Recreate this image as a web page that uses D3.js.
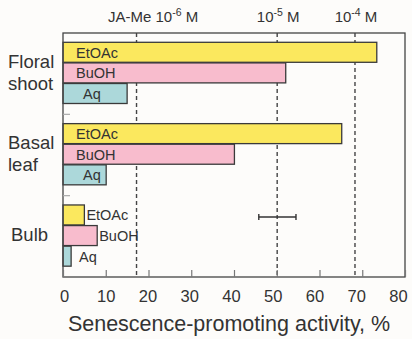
<!DOCTYPE html>
<html><head><meta charset="utf-8">
<script src="https://cdn.jsdelivr.net/npm/d3@7"></script>
<style>
body{margin:0;background:#fdfcfa;}
svg{display:block;font-family:"Liberation Sans",Arial,sans-serif;}
</style></head>
<body><svg id="c" width="412" height="339"></svg>
<script>
const groups = ["Floral shoot", "Basal leaf", "Bulb"];
const series = ["EtOAc", "BuOH", "Aq"];
const floral = [73.4, 52.1, 15.0];
const basal = [65.2, 40.1, 10.1];
const bulb = [5.0, 8.0, 1.9];
const refLines = [17.2, 50.1, 68.3];
const refLabels = ["JA-Me 10^-6 M", "10^-5 M", "10^-4 M"];
const errBar = {center: 50.1, low: 45.8, high: 54.5};
const xTicks = [0, 10, 20, 30, 40, 50, 60, 70, 80];
const colors = ["#fbe85e", "#f8bccd", "#acd8da"];

const values = [floral, basal, bulb];
const svg = d3.select("#c");
const L = 63, R = 405, T = 33, B = 277;
const x = d3.scaleLinear().domain([0, 80]).range([L, R]);
const xLab = d3.scaleLinear().domain([0, 80]).range([64, 398]);
const y = d3.scaleBand().domain(groups).range([T, B]);
const yi = d3.scaleBand().domain(series).range([9.3, 70.5]).paddingInner(0.03);
const ink = "#333";

// dashed reference lines
svg.selectAll(".ref").data(refLines).join("line")
  .attr("x1", d => x(d)).attr("x2", d => x(d))
  .attr("y1", T).attr("y2", B)
  .attr("stroke", "#444").attr("stroke-width", 1.4).attr("stroke-dasharray", "4,3");

// bars
groups.forEach((g, gi) => {
  const gg = svg.append("g").attr("transform", `translate(0,${y(g)})`);
  series.forEach((s, si) => {
    const v = values[gi][si];
    gg.append("rect")
      .attr("x", x(0)).attr("y", yi(s))
      .attr("width", x(v) - x(0)).attr("height", yi.bandwidth())
      .attr("fill", colors[si]).attr("stroke", "#3a3a3a").attr("stroke-width", 1.3);
    const inside = gi < 2;
    const lx = inside ? (si === 2 ? x(0) + 20 : x(0) + 13) : (si === 2 ? x(v) + 8 : x(v) + 2);
    gg.append("text")
      .attr("x", lx)
      .attr("y", yi(s) + yi.bandwidth() / 2 + 5.5)
      .attr("font-size", 14.5).attr("fill", ink).text(s);
  });
});

// frame
svg.append("rect").attr("x", L).attr("y", T).attr("width", R - L).attr("height", B - T)
  .attr("fill", "none").attr("stroke", "#444").attr("stroke-width", 1.3);

// group separator ticks
groups.slice(1).forEach(g => {
  svg.append("line").attr("x1", L).attr("x2", L + 7)
    .attr("y1", y(g)).attr("y2", y(g)).attr("stroke", "#aaa").attr("stroke-width", 1.2);
});

// x axis ticks (inward)
const ax = svg.append("g").attr("transform", `translate(0,${B})`)
  .call(d3.axisBottom(x).tickValues(xTicks).tickSize(-7).tickFormat("").tickSizeOuter(0));
ax.select(".domain").remove();
ax.selectAll(".tick line").attr("stroke", "#777").attr("stroke-width", 1.2);
// x axis labels
const axl = svg.append("g").attr("transform", `translate(0,${B})`)
  .call(d3.axisBottom(xLab).tickValues(xTicks).tickSize(0).tickPadding(13));
axl.select(".domain").remove();
axl.selectAll(".tick text").attr("font-size", 16.5).attr("fill", ink)
  .attr("font-family", "Liberation Sans, Arial, sans-serif");

// axis title
svg.append("text").attr("x", 229).attr("y", 331).attr("text-anchor", "middle")
  .attr("font-size", 21.5).attr("fill", ink).text("Senescence-promoting activity, %");

// group labels
const gl = [["Floral", "shoot"], ["Basal", "leaf"], ["Bulb"]];
groups.forEach((g, gi) => {
  const lines = gl[gi];
  const cy = y(g) + y.bandwidth() / 2 - 1;
  lines.forEach((t, li) => {
    svg.append("text").attr("x", gi === 2 ? 11 : 8)
      .attr("y", cy + (li - (lines.length - 1) / 2) * 22 + 6)
      .attr("font-size", 18.5).attr("fill", ink).text(t);
  });
});

// top labels with superscripts
const anchors = ["start", "middle", "middle"];
refLines.forEach((v, i) => {
  const m = refLabels[i].match(/^(.*?)10\^(-\d) M$/);
  const t = svg.append("text").attr("y", 22).attr("font-size", 15).attr("fill", ink)
    .attr("text-anchor", anchors[i])
    .attr("x", i === 0 ? 108 : x(v) + 1);
  t.append("tspan").text(m[1] + "10");
  t.append("tspan").attr("dy", -6).attr("font-size", 10.5).text(m[2]);
  t.append("tspan").attr("dy", 6).text(" M");
});

// error bar
const ey = 217;
svg.append("line").attr("x1", x(errBar.low)).attr("x2", x(errBar.high))
  .attr("y1", ey).attr("y2", ey).attr("stroke", "#333").attr("stroke-width", 1.4);
[errBar.low, errBar.high].forEach(v => svg.append("line")
  .attr("x1", x(v)).attr("x2", x(v)).attr("y1", ey - 3).attr("y2", ey + 3)
  .attr("stroke", "#333").attr("stroke-width", 1.4));
</script></body></html>
